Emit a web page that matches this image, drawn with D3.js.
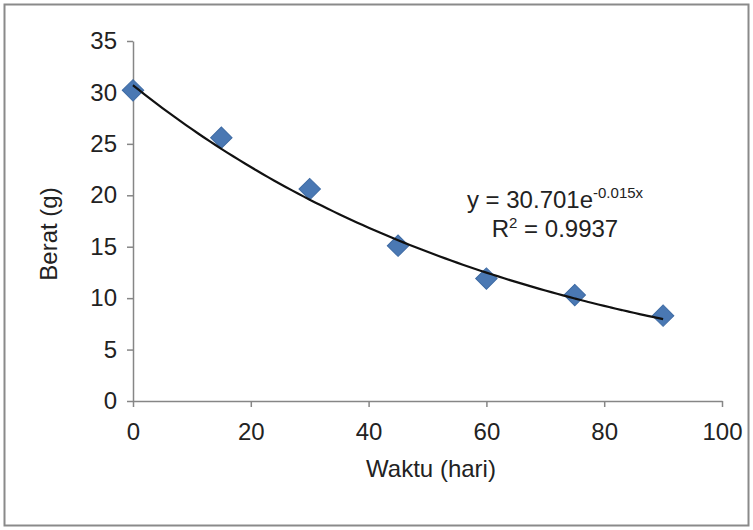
<!DOCTYPE html>
<html>
<head>
<meta charset="utf-8">
<script src="https://cdn.jsdelivr.net/npm/d3@7"></script>
<style>
  body { margin: 0; background: #fff; }
  text { font-family: "Liberation Sans", Arial, sans-serif; fill: #222; }
</style>
</head>
<body>
<script>
// data
const waktu = [0, 15, 30, 45, 60, 75, 90];
const berat = [30.2, 25.6, 20.6, 15.1, 11.9, 10.3, 8.3];
const xTicks = [0, 20, 40, 60, 80, 100];
const yTicks = [0, 5, 10, 15, 20, 25, 30, 35];
// exponential trendline as printed on the chart
const fitA = 30.701;
const fitB = -0.015;
const fitR2 = 0.9937;

const W = 753, H = 530;
const svg = d3.select('body').append('svg')
    .attr('width', W)
    .attr('height', H);

// outer frame
svg.append('rect')
    .attr('x', 4.5).attr('y', 4.5)
    .attr('width', 744).attr('height', 521)
    .attr('fill', '#fff')
    .attr('stroke', '#8a8a8a')
    .attr('stroke-width', 2);

const x = d3.scaleLinear().domain([0, 100]).range([133, 722]);
const y = d3.scaleLinear().domain([0, 35]).range([401, 41]);

const axisColor = '#868686';
const fontSize = '24px';

// y axis
const gy = svg.append('g')
    .attr('transform', `translate(${x(0)},0)`)
    .call(d3.axisLeft(y).tickValues(yTicks).tickSize(6).tickPadding(10).tickSizeOuter(0));
// x axis
const gx = svg.append('g')
    .attr('transform', `translate(0,${y(0)})`)
    .call(d3.axisBottom(x).tickValues(xTicks).tickSize(6).tickPadding(16).tickSizeOuter(0));

[gx, gy].forEach(g => {
    g.select('.domain').attr('stroke', axisColor).attr('stroke-width', 1.5);
    g.selectAll('.tick line').attr('stroke', axisColor).attr('stroke-width', 1.5);
    g.selectAll('.tick text')
        .attr('fill', '#222')
        .style('font-size', fontSize)
        .style('font-family', '"Liberation Sans", Arial, sans-serif');
});

// axis titles
svg.append('text')
    .attr('x', 431)
    .attr('y', 477)
    .attr('text-anchor', 'middle')
    .style('font-size', fontSize)
    .text('Waktu (hari)');

svg.append('text')
    .attr('transform', `translate(57,234) rotate(-90)`)
    .attr('text-anchor', 'middle')
    .style('font-size', fontSize)
    .text('Berat (g)');

// trendline
const curveX = d3.range(0, 90.5, 1);
const line = d3.line()
    .x(d => x(d))
    .y(d => y(fitA * Math.exp(fitB * d)))
    .curve(d3.curveMonotoneX);

// markers
svg.append('g').selectAll('path')
    .data(waktu.map((d, i) => ({ x: d, y: berat[i] })))
    .enter()
    .append('path')
    .attr('transform', d => `translate(${x(d.x)},${y(d.y)}) rotate(45)`)
    .attr('d', d3.symbol().type(d3.symbolSquare).size(230))
    .attr('fill', '#4a78b3')
    .attr('stroke', '#3d6aa3')
    .attr('stroke-width', 1);

svg.append('path')
    .datum(curveX)
    .attr('d', line)
    .attr('fill', 'none')
    .attr('stroke', '#111')
    .attr('stroke-width', 2.2);

// equation label, both lines centred like the Excel label
const labelX = 555;
const eq = svg.append('text')
    .attr('x', labelX)
    .attr('y', 208)
    .attr('text-anchor', 'middle')
    .style('font-size', fontSize);
eq.append('tspan').text('y = ' + fitA + 'e');
eq.append('tspan')
    .attr('dy', -10)
    .style('font-size', '15px')
    .text(fitB + 'x');

const r2 = svg.append('text')
    .attr('x', labelX)
    .attr('y', 237)
    .attr('text-anchor', 'middle')
    .style('font-size', fontSize);
r2.append('tspan').text('R');
r2.append('tspan').attr('dy', -9).style('font-size', '15px').text('2');
r2.append('tspan').attr('dy', 9).text(' = ' + fitR2);
</script>
</body>
</html>
